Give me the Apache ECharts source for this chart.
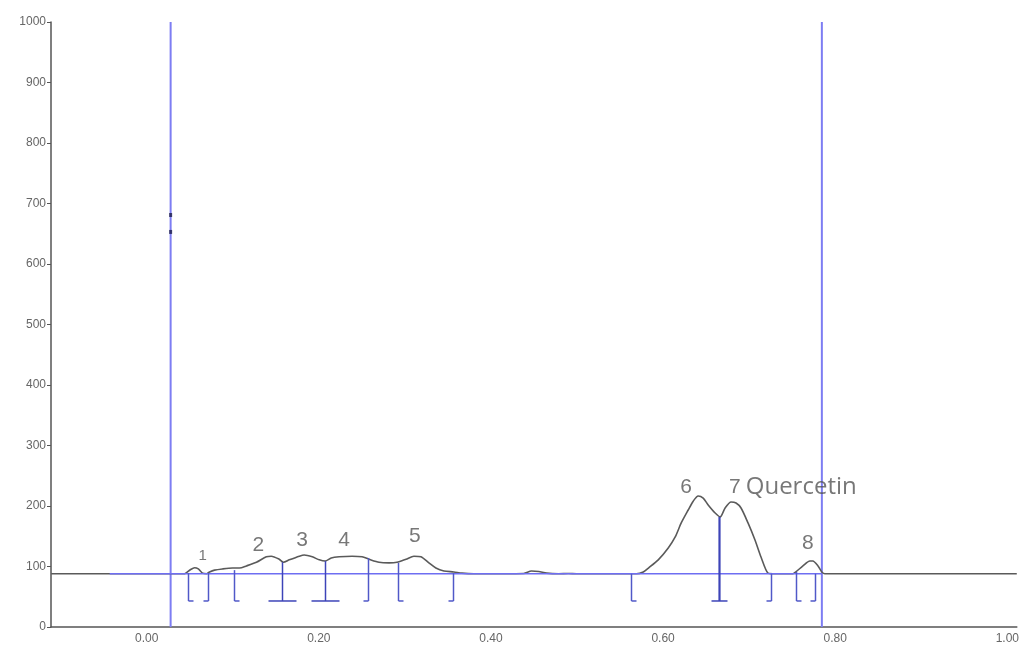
<!DOCTYPE html>
<html>
<head>
<meta charset="utf-8">
<title>Densitogram</title>
<script src="https://cdn.jsdelivr.net/npm/echarts@6/dist/echarts.min.js"></script>
<style>
  html, body { margin: 0; padding: 0; background: #fff; overflow: hidden; }
  #chart { width: 1022px; height: 647px; }
</style>
</head>
<body>
<div id="chart"></div>
<script>
// Scan track: Rf position and detector response (AU)
const signalRf = [-0.111, 0.044, 0.0463, 0.051, 0.0556, 0.060, 0.065, 0.0695, 0.073, 0.0788, 0.088, 0.0997, 0.1078,
  0.1159, 0.1275, 0.139, 0.1448, 0.154, 0.1588, 0.1657, 0.1773, 0.183, 0.1924, 0.2005, 0.2074, 0.2144, 0.2236,
  0.2387, 0.2503, 0.2584, 0.270, 0.2816, 0.2908, 0.3013, 0.3105, 0.3187, 0.3279, 0.336, 0.3453, 0.3569, 0.3662,
  0.380, 0.438, 0.447, 0.4554, 0.4647, 0.4786, 0.490, 0.4994, 0.569, 0.577, 0.583, 0.5944, 0.606, 0.6141, 0.6211,
  0.6292, 0.635, 0.6408, 0.6466, 0.6524, 0.6605, 0.6663, 0.6721, 0.679, 0.6848, 0.6906, 0.6987, 0.7068, 0.7138,
  0.7219, 0.7277, 0.7509, 0.7543, 0.7625, 0.7706, 0.774, 0.780, 0.7845, 0.788, 1.011];
const signalAu = [88, 88, 90, 95, 98, 96, 89, 88, 91, 94, 96, 97.5, 97.5,
  101, 107, 116, 117, 112, 107, 111, 117, 119, 116, 111, 109, 114, 116,
  117, 116, 112, 107, 106, 107, 112, 117, 116, 106, 97.5, 92.6, 91, 89,
  88, 88.5, 92.5, 91.7, 89, 88, 88.5, 88, 88, 91, 97.5, 111, 130.6, 148.8, 172,
  193.4, 208, 216.5, 213, 201.7, 188.4, 182, 196.7, 206.6, 205, 196.7, 172, 143.8, 115.7,
  89, 88, 88, 91, 101, 109, 109, 101, 91, 88, 88];

// Integration baseline
const baselineRf = [-0.043, 0.7845];
const baselineAu = 88;

// Start / front lines
const trackLinesRf = [0.0278, 0.7845];
const trackLineSpan = [0, 1000];

// Peak boundaries: Rf, response at the boundary, kind ('[' start, ']' end, 'I' split)
const boundaryRf = [0.0475, 0.0718, 0.102, 0.1576, 0.2074, 0.2572, 0.292, 0.3557, 0.5632, 0.6651, 0.7254, 0.7543, 0.7764];
const boundaryAu = [89, 89, 94, 107, 109, 114, 106, 89, 88, 182, 88, 91, 88];
const boundaryKind = ['[', ']', '[', 'I', 'I', ']', '[', ']', '[', 'I', ']', '[', ']'];
const boundaryFloor = 43;

// Peak numbering
const peakNames = ['1', '2', '3', '4', '5', '6', '7', '8'];
const peakRf = [0.0556, 0.1448, 0.183, 0.2387, 0.3105, 0.6408, 0.679, 0.774];
const peakAu = [98, 117, 119, 117, 117, 216.5, 206.6, 109];
const quercetinPeak = '7';
const quercetinName = 'Quercetin';

// Marks on the start line
const startMarksAu = [681, 653];

// Axis tick labels
const xTicks = [0.00, 0.20, 0.40, 0.60, 0.80, 1.00];

// Label placement (pixel offsets from each peak apex)
const labelOffsets = [[8, -12], [-13, -11], [-2, -15], [-8, -16], [1, -20], [-12, -9], [-2, -15], [-5, -18]];

const chart = echarts.init(document.getElementById('chart'));

const signalData = signalRf.map((r, i) => [r, signalAu[i]]);
const boundaryData = boundaryRf.map((r, i) => [r, boundaryAu[i]]);

const peakData = peakNames.map((name, i) => {
  const isQ = name === quercetinPeak;
  return {
    name: name,
    value: [peakRf[i], peakAu[i]],
    label: {
      offset: labelOffsets[i],
      align: isQ ? 'left' : 'center',
      fontSize: name === '1' ? 15 : 21,
      formatter: isQ ? '{n|' + name + '}{q|' + quercetinName + '}' : name
    }
  };
});

const numFont = "'Liberation Sans Narrow', 'Liberation Sans', Arial, sans-serif";

const trackLineSeries = trackLinesRf.map((r, i) => ({
  name: 'track line ' + (i + 1),
  type: 'line',
  data: trackLineSpan.map(v => [r, v]),
  showSymbol: false,
  lineStyle: { color: '#7d7df3', width: 2 },
  z: 2
}));

chart.setOption({
  animation: false,
  backgroundColor: '#fff',
  grid: { left: 51, right: 0, top: 22, bottom: 20, containLabel: false },
  xAxis: {
    type: 'value',
    min: -0.1112,
    max: 1.011,
    axisLine: { show: true, onZero: false, lineStyle: { color: '#555', width: 1.5 } },
    axisTick: { show: false },
    splitLine: { show: false },
    axisLabel: {
      customValues: xTicks,
      formatter: v => v.toFixed(2),
      color: '#666',
      fontSize: 12,
      fontFamily: 'Liberation Sans, Arial, sans-serif',
      margin: 6
    }
  },
  yAxis: {
    type: 'value',
    min: 0,
    max: 1000,
    interval: 100,
    axisLine: { show: true, onZero: false, lineStyle: { color: '#555', width: 1.5 } },
    axisTick: { show: true, length: 4, lineStyle: { color: '#555' } },
    splitLine: { show: false },
    axisLabel: {
      formatter: v => String(v),
      color: '#666',
      fontSize: 12,
      fontFamily: 'Liberation Sans, Arial, sans-serif',
      margin: 5
    }
  },
  series: trackLineSeries.concat([
    {
      name: 'signal',
      type: 'line',
      data: signalData,
      showSymbol: false,
      smooth: 0.25,
      lineStyle: { color: '#5a5a5a', width: 1.6 },
      z: 3
    },
    {
      name: 'baseline',
      type: 'line',
      data: baselineRf.map(r => [r, baselineAu]),
      showSymbol: false,
      lineStyle: { color: '#6e6ef2', width: 1.5 },
      z: 4
    },
    {
      name: 'boundaries',
      type: 'custom',
      data: boundaryData,
      z: 5,
      renderItem: function (params, api) {
        const kind = boundaryKind[params.dataIndex];
        const top = api.coord([api.value(0), api.value(1)]);
        const bottom = api.coord([api.value(0), boundaryFloor]);
        const x = Math.round(top[0]) + 0.5;
        const split = kind === 'I';
        const thick = split && api.value(1) > 150;
        const color = split ? '#3d44b8' : '#5058c8';
        const width = thick ? 2.2 : 1.5;
        const children = [{
          type: 'line',
          shape: { x1: x, y1: top[1], x2: x, y2: bottom[1] },
          style: { stroke: color, lineWidth: width }
        }];
        let fx1, fx2;
        if (kind === '[') { fx1 = x; fx2 = x + 5; }
        else if (kind === ']') { fx1 = x - 5; fx2 = x; }
        else { const hw = thick ? 8 : 14; fx1 = x - hw; fx2 = x + hw; }
        children.push({
          type: 'line',
          shape: { x1: fx1, y1: bottom[1], x2: fx2, y2: bottom[1] },
          style: { stroke: color, lineWidth: 1.5 }
        });
        return { type: 'group', children: children };
      }
    },
    {
      name: 'peaks',
      type: 'scatter',
      data: peakData,
      symbolSize: 0,
      z: 6,
      label: {
        show: true,
        position: 'inside',
        verticalAlign: 'middle',
        color: '#555',
        fontFamily: numFont,
        rich: {
          n: { fontSize: 21, color: '#555', fontFamily: numFont, padding: [0, 5, 0, 0] },
          q: { fontSize: 24, color: '#555', fontFamily: "'Open Sans', sans-serif" }
        }
      }
    },
    {
      name: 'start marks',
      type: 'scatter',
      data: startMarksAu.map(v => [trackLinesRf[0], v]),
      symbol: 'rect',
      symbolSize: [3, 4],
      itemStyle: { color: '#1c1c4a' },
      z: 7
    }
  ])
});
</script>
</body>
</html>
